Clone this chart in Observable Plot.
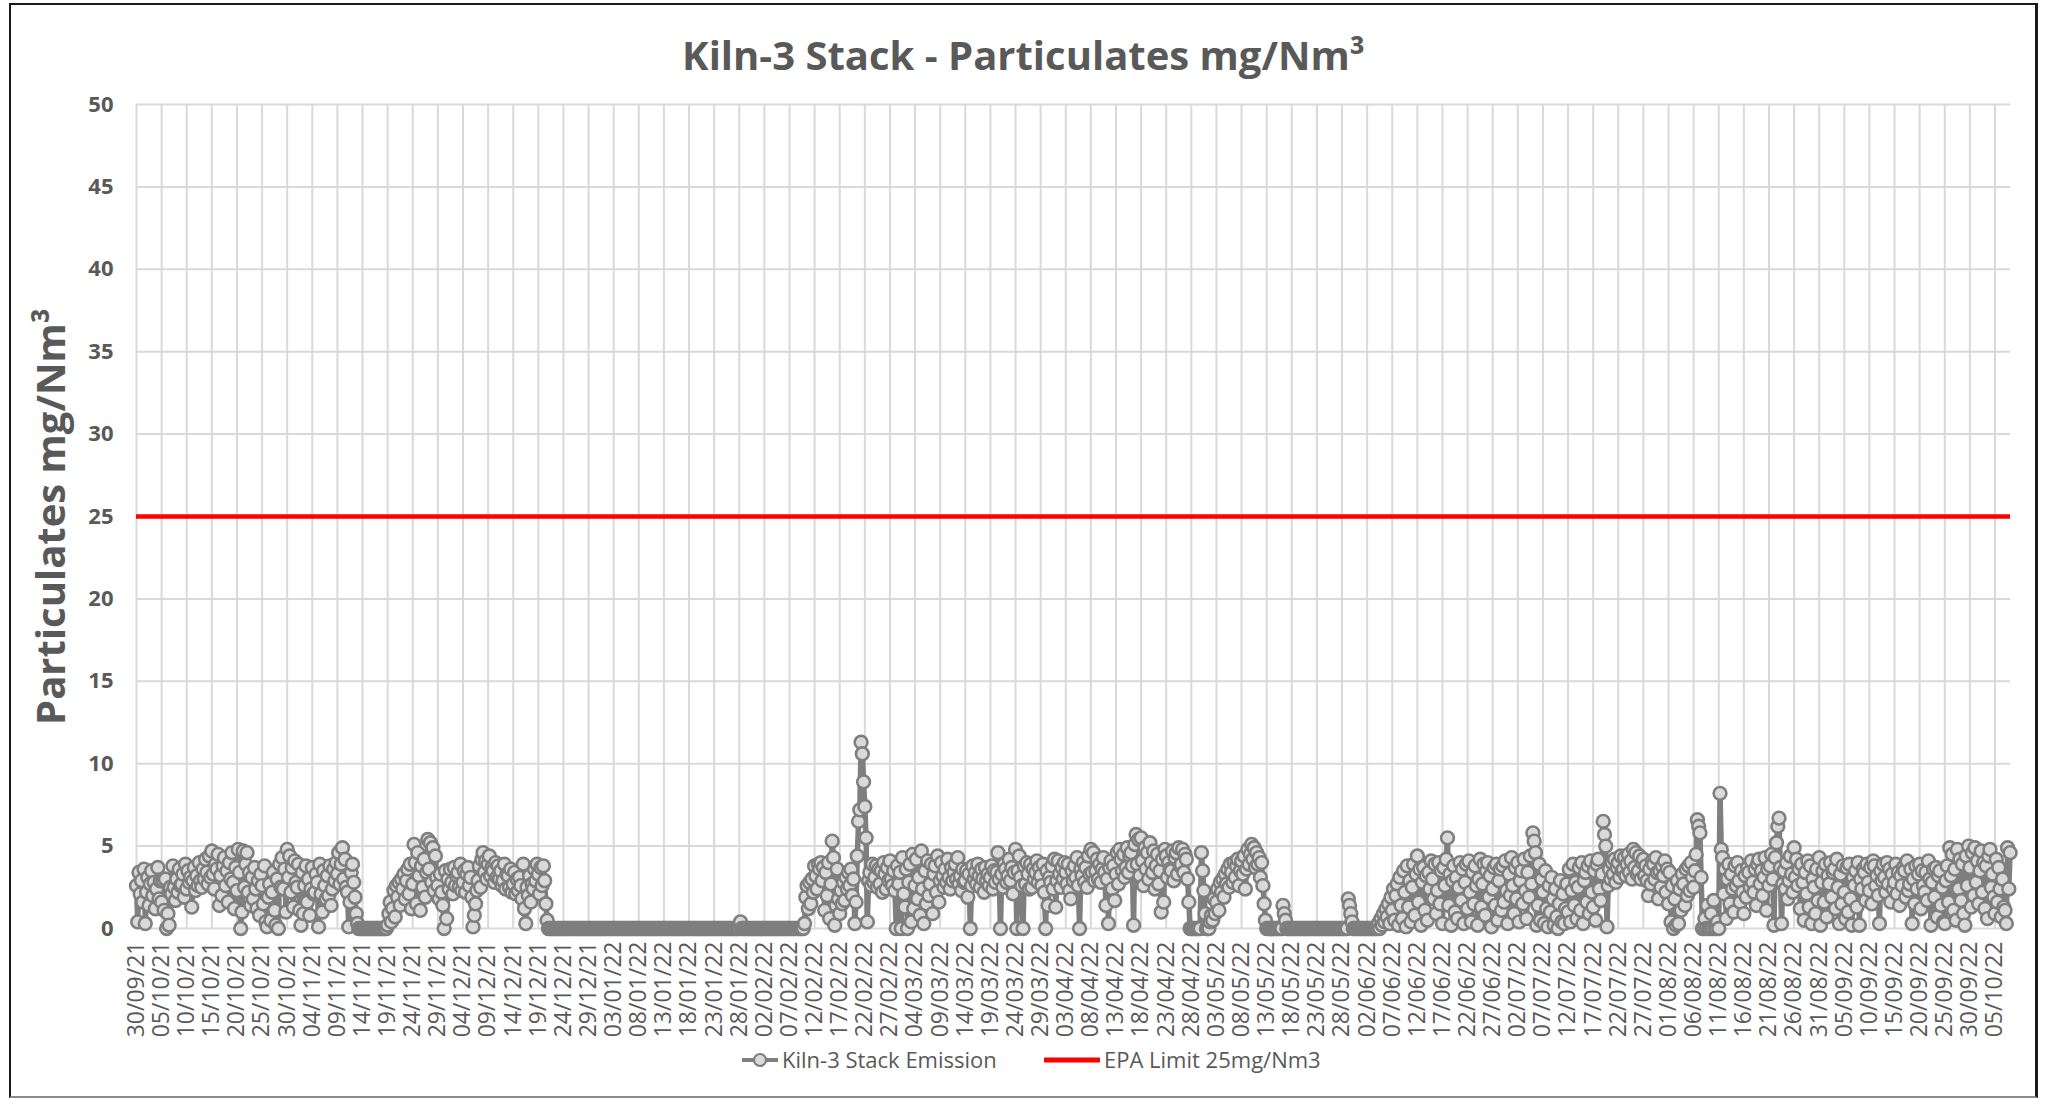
<!DOCTYPE html>
<html>
<head>
<meta charset="utf-8">
<script src="https://cdn.jsdelivr.net/npm/d3@7"></script>
<script src="https://cdn.jsdelivr.net/npm/@observablehq/plot@0.6"></script>
<style>
html,body{margin:0;padding:0;background:#fff;}
#wrap{position:relative;width:2047px;height:1099px;overflow:hidden;font-family:"Open Sans",sans-serif;color:#595959;background:#fff;}
#frame{position:absolute;left:9px;top:3px;width:2029px;height:1095px;border:2px solid #1a1a1a;border-right-width:3px;border-bottom-color:#8c8c8c;box-sizing:border-box;pointer-events:none;}
#chart{position:absolute;left:0;top:0;}
#title{position:absolute;left:0;top:35px;width:2047px;text-align:center;font-size:40px;line-height:40px;font-weight:700;white-space:nowrap;}
.lg{position:absolute;top:1048px;font-size:22px;line-height:22px;white-space:nowrap;}
.sw{position:absolute;top:1052px;}
</style>
</head>
<body>
<div id="wrap">
  <div id="chart"></div>
  <div id="title"></div>
  <svg class="sw" id="sw1" style="left:742px" width="36" height="16"><line x1="0" y1="8" x2="36" y2="8" stroke="#7f7f7f" stroke-width="4"/><circle cx="18" cy="8" r="6" fill="#d9d9d9" stroke="#7f7f7f" stroke-width="2.2"/></svg>
  <div class="lg" id="lg1" style="left:782px"></div>
  <svg class="sw" id="sw2" style="left:1044px" width="56" height="16"><line x1="1" y1="8" x2="55" y2="8" stroke="#ff0000" stroke-width="5" stroke-linecap="round"/></svg>
  <div class="lg" id="lg2" style="left:1104px"></div>
  <div id="frame"></div>
</div>
<script>
// ---- Text ----
const chartTitle = "Kiln-3 Stack - Particulates mg/Nm³";
const yTitle = "Particulates mg/Nm³";
const seriesName = "Kiln-3 Stack Emission";
const limitName = "EPA Limit 25mg/Nm3";
const epaLimit = 25;

// ---- Axis ticks ----
const yTicks = [0, 5, 10, 15, 20, 25, 30, 35, 40, 45, 50];
const xTickLabels = ["30/09/21","05/10/21","10/10/21","15/10/21","20/10/21","25/10/21","30/10/21","04/11/21","09/11/21","14/11/21","19/11/21","24/11/21","29/11/21","04/12/21","09/12/21","14/12/21","19/12/21","24/12/21","29/12/21","03/01/22","08/01/22","13/01/22","18/01/22","23/01/22","28/01/22","02/02/22","07/02/22","12/02/22","17/02/22","22/02/22","27/02/22","04/03/22","09/03/22","14/03/22","19/03/22","24/03/22","29/03/22","03/04/22","08/04/22","13/04/22","18/04/22","23/04/22","28/04/22","03/05/22","08/05/22","13/05/22","18/05/22","23/05/22","28/05/22","02/06/22","07/06/22","12/06/22","17/06/22","22/06/22","27/06/22","02/07/22","07/07/22","12/07/22","17/07/22","22/07/22","27/07/22","01/08/22","06/08/22","11/08/22","16/08/22","21/08/22","26/08/22","31/08/22","05/09/22","10/09/22","15/09/22","20/09/22","25/09/22","30/09/22","05/10/22"];
const xDomain = ["2021-09-30T00:00:00Z", "2022-10-08T02:00:00Z"];

// ---- Readings, 6-hourly (00,06,12,18h), mg/Nm3 ----
const sepOct21 = [ // from 30/09/21
2.6,0.4,3.4,2.1, 2.9,1.6,3.6,0.3, 2.2,3.1,1.4,2.7, 3.5,2.0,2.8,1.2, 2.4,3.7,1.8,2.9,
1.6,2.9,1.1,3.0, 0.0,0.9,0.2,2.5, 2.1,3.8,2.5,1.7, 3.0,2.2,3.6,2.6, 2.7,3.3,1.9,3.9,
2.4,3.5,2.8,3.1, 1.3,2.9,3.7,2.3, 3.2,2.6,4.0,2.9, 2.5,3.6,3.0,4.2, 3.4,2.7,4.4,3.1,
4.7,3.3,2.4,3.9, 3.6,4.5,1.4,3.2, 2.0,3.8,4.3,2.6, 3.5,1.6,4.0,3.0, 4.6,2.8,1.2,3.7,
2.3,4.8,3.4,0.0, 1.0,4.7,2.5,3.9, 4.6,2.2,3.4,1.4, 3.1,1.8,3.7,2.4, 1.2,2.9,0.8,3.3,
2.6,1.5,3.8,0.4, 0.1,1.9,2.7,0.5, 2.2,3.4,1.1,0.2, 3.0,0.0,3.9,2.5, 4.3,2.4,3.6,1.0,
4.8,3.1,4.4,2.2, 3.7,1.3,4.1,2.8];
const nov21 = [
2.5,3.9,1.1,0.2, 3.4,0.9,2.6,3.8, 1.6,3.0,0.8,2.4, 3.7,2.1,2.2,3.3, 2.8,0.1,3.9,2.1,
1.0,3.5,2.6,1.8, 3.2,2.0,3.8,1.4, 2.4,3.6,2.9,4.0, 3.3,4.6,2.7,3.9, 4.9,3.0,4.2,2.5,
2.2,0.1,1.6,3.4, 3.9,2.8,1.9,0.9, 0.3,0,0,0, 0,0,0,0, 0,0,0,0,
0,0,0,0, 0,0,0,0, 0,0,0,0, 0.2,0.9,1.6,0.4, 1.2,2.3,0.7,2.6,
1.9,2.8,1.4,3.0, 2.4,3.3,1.8,2.9, 3.6,2.1,3.9,1.2, 2.7,5.1,4.0,1.5, 4.6,3.2,1.1,3.8,
2.5,4.2,1.9,3.4, 5.4,3.6,5.2,2.8, 4.9,2.3,4.4,3.1, 2.6,1.8,3.3,2.2, 1.4,0.0,3.5,0.6];
const dec21 = [
3.0,2.4,3.6,2.8, 2.1,3.7,2.6,3.2, 3.4,2.5,3.9,2.3, 2.8,3.5,2.2,3.3, 3.7,2.6,3.1,1.9,
0.1,0.8,1.5,2.3, 2.9,3.8,2.5,4.2, 4.6,3.4,4.1,3.0, 3.9,4.4,3.2,3.7, 3.5,2.8,4.0,3.1,
3.8,3.0,3.5,2.6, 2.9,3.9,2.4,3.3, 3.2,2.5,3.6,2.2, 2.7,3.4,2.1,3.0, 2.3,3.1,2.6,1.8,
3.9,1.2,0.3,2.5, 2.0,3.2,1.6,2.7, 2.4,3.6,2.9,3.9, 3.3,2.1,3.7,2.6, 3.8,2.9,1.5,0.5,
0,0,0,0, 0,0,0,0, 0,0,0,0, 0,0,0,0, 0,0,0,0,
0,0,0,0, 0,0,0,0, 0,0,0,0, 0,0,0,0, 0,0,0,0,
0,0,0,0];
const jan22 = [
0,0,0,0, 0,0,0,0, 0,0,0,0, 0,0,0,0, 0,0,0,0,
0,0,0,0, 0,0,0,0, 0,0,0,0, 0,0,0,0, 0,0,0,0,
0,0,0,0, 0,0,0,0, 0,0,0,0, 0,0,0,0, 0,0,0,0,
0,0,0,0, 0,0,0,0, 0,0,0,0, 0,0,0,0, 0,0,0,0,
0,0,0,0, 0,0,0,0, 0,0,0,0, 0,0,0,0, 0,0,0,0,
0,0,0,0, 0,0,0,0, 0,0.4,0,0, 0,0,0,0, 0,0,0,0,
0,0,0,0];
const feb22 = [
0,0,0,0, 0,0,0,0, 0,0,0,0, 0,0,0,0, 0,0,0,0,
0,0,0,0, 0,0,0,0, 0,0,0,0, 0,0,0,0, 0.3,1.9,2.6,1.2,
2.8,1.5,3.0,2.2, 3.8,3.2,2.4,3.9, 3.6,4.0,2.9,3.7, 1.1,3.4,2.0,4.0, 0.6,2.7,5.3,4.3,
0.2,1.4,3.6,1.8, 0.9,2.3,1.5,2.8, 1.7,3.1,2.4,3.4, 2.6,3.6,2.0,3.0, 0.3,1.6,4.4,6.5,
7.2,11.3,10.6,8.9, 7.4,5.5,0.4,2.9, 3.4,2.6,3.9,2.8, 3.1,3.8,2.5,3.6, 2.7,3.5,2.2,4.0,
3.3,2.4,3.7,2.9, 4.1,3.0,2.6,3.5, 2.3,0.0,3.8,2.7];
const mar22 = [
3.4,0.0,4.3,2.1, 1.3,3.6,0.0,2.8, 3.9,0.4,4.5,1.2, 2.6,4.2,1.8,3.1, 0.8,4.7,2.4,0.3,
3.5,1.5,4.1,2.0, 2.7,3.9,0.9,3.3, 3.8,2.2,4.4,1.6, 2.9,4.0,3.2,2.5, 3.6,2.8,4.2,3.1,
2.4,3.7,2.9,3.4, 3.9,3.0,4.3,2.7, 3.2,2.3,3.6,2.8, 2.9,3.5,1.9,3.3, 0.0,2.6,3.8,3.0,
3.4,2.7,3.9,3.2, 2.5,3.6,3.0,2.2, 3.7,2.9,3.3,2.6, 3.1,3.8,2.4,3.5, 2.8,3.4,4.6,3.0,
0.0,3.3,2.5,3.9, 3.6,2.8,3.2,4.2, 2.9,3.7,2.1,3.4, 4.8,0.0,3.5,4.4, 3.1,2.6,0.0,3.8,
2.7,4.0,3.3,2.4, 3.9,2.5,3.6,3.0, 3.4,4.1,2.8,3.7, 3.2,2.6,3.9,2.2, 0.0,3.5,1.4,3.1,
2.8,3.8,2.4,4.2];
const apr22 = [
1.3,2.9,4.1,3.3, 2.5,3.7,3.0,4.0, 3.4,2.7,3.9,2.3, 1.8,3.5,2.9,3.8, 3.1,4.3,2.6,0.0,
3.6,3.2,4.0,2.8, 3.7,2.5,4.4,3.3, 4.8,3.4,4.6,2.9, 3.5,4.2,3.0,3.9, 2.8,3.6,4.3,3.4,
1.4,3.0,0.3,3.7, 4.1,2.4,3.8,1.7, 3.3,4.6,2.7,4.8, 4.2,3.5,4.5,3.1, 3.7,4.9,3.4,4.4,
4.6,3.8,0.2,5.1, 5.7,3.9,5.4,3.2, 5.5,4.1,2.6,4.9, 3.6,4.6,3.0,5.2, 4.0,3.4,4.7,2.4,
3.8,4.5,2.7,3.5, 1.0,4.2,1.6,4.8, 4.4,3.1,4.0,3.6, 3.5,4.7,2.9,4.3, 4.6,3.3,4.9,3.8,
3.9,4.8,3.4,4.5, 4.2,3.0,1.6,0.0, 0,0,0,0, 0,0,0,0, 4.6,3.5,2.3,0.9];
const may22 = [
0,0,0,0.4, 0.8,0.5,1.8,0.9, 1.6,2.4,1.1,2.8, 2.2,3.0,1.9,3.3, 2.7,3.6,2.5,3.9,
3.4,2.8,4.0,3.1, 3.8,4.2,2.6,3.5, 4.1,3.3,4.4,2.4, 3.6,4.8,3.9,4.5, 5.1,4.2,4.9,3.7,
4.6,3.9,4.3,3.1, 4.0,2.6,1.5,0.5, 0,0,0,0, 0,0,0,0, 0,0,0,0,
0,1.4,0.9,0.5, 0,0,0,0, 0,0,0,0, 0,0,0,0, 0,0,0,0,
0,0,0,0, 0,0,0,0, 0,0,0,0, 0,0,0,0, 0,0,0,0,
0,0,0,0, 0,0,0,0, 0,0,0,0, 0,1.8,1.4,0.9, 0.4,0,0,0,
0,0,0,0];
const jun22 = [
0,0,0,0, 0,0,0,0, 0,0,0,0, 0,0.3,0,0.6, 0.2,0.9,0.4,1.2,
0.7,1.5,0.3,1.9, 1.1,2.4,0.5,2.0, 2.7,0.2,3.1,1.4, 0.6,3.5,2.2,0.1, 3.8,1.3,2.9,0.4,
2.5,3.9,0.8,3.3, 4.4,1.6,3.6,0.2, 2.8,3.7,1.1,3.2, 0.5,3.4,2.4,4.1, 3.0,1.8,3.9,0.9,
2.3,4.0,1.5,3.5, 0.3,3.7,2.6,4.2, 5.5,1.4,3.3,0.2, 2.9,3.8,1.0,3.1, 0.6,2.5,4.0,1.7,
3.6,0.3,2.8,3.9, 1.2,4.1,2.2,0.4, 3.4,1.5,3.8,2.6, 0.2,3.0,4.2,1.3, 2.7,3.9,0.8,3.5,
4.0,1.9,3.2,0.1, 2.4,3.7,1.4,3.9, 0.5,2.9,3.6,1.1, 3.8,1.6,4.1,2.3, 0.3,3.3,2.0,4.3];
const jul22 = [
2.6,0.9,3.7,1.8, 4.0,0.4,2.9,3.5, 1.5,4.2,2.3,0.6, 3.4,1.9,4.4,2.7, 5.8,5.3,4.6,0.2,
1.4,3.9,0.5,3.0, 2.2,0.3,3.5,1.2, 0.1,2.6,1.0,3.1, 1.8,0.2,2.4,0.7, 0.0,1.5,2.9,0.4,
2.1,0.3,1.2,2.7, 1.0,3.6,0.4,2.3, 3.9,1.4,2.8,0.6, 2.5,3.7,1.1,4.0, 0.3,2.9,3.4,1.6,
3.8,0.9,4.1,2.2, 1.3,3.5,0.5,3.9, 4.2,2.4,1.7,3.3, 6.5,5.7,5.0,0.1, 2.6,3.6,3.0,4.0,
3.3,4.2,2.8,3.7, 4.0,3.1,4.4,3.5, 3.6,4.3,3.2,3.9, 4.5,3.4,4.1,3.0, 4.8,3.7,4.6,3.3,
3.5,4.4,3.0,4.0, 4.2,3.2,3.8,2.9, 2.0,3.6,2.7,4.1, 3.9,3.0,4.3,3.4, 1.8,3.5,2.5,3.8,
3.2,4.1,2.2,3.6];
const aug22 = [
1.5,3.4,0.4,2.6, 0.0,1.8,0.2,2.9, 0.3,2.4,1.1,3.3, 2.7,1.4,3.6,2.0, 3.8,2.3,4.0,3.1,
2.5,3.5,4.5,6.6, 6.2,5.8,3.1,0.0, 0.0,0.6,0.0,1.4, 0.0,0.0,0.9,0.0, 1.7,0.0,0.0,0.4,
0.0,8.2,4.8,4.3, 2.1,3.6,0.6,3.0, 3.9,1.5,3.3,2.4, 1.0,3.8,2.6,4.0, 2.9,1.6,3.5,2.2,
0.9,3.2,1.9,3.7, 3.4,2.5,4.1,2.8, 2.2,3.6,1.4,3.9, 4.2,2.7,3.5,2.0, 3.1,4.3,1.1,3.6,
2.6,3.8,4.5,3.0, 0.2,4.3,5.2,6.2, 6.7,3.7,0.3,2.7, 3.5,2.4,4.0,1.8, 2.9,4.4,3.3,2.2,
4.9,3.1,4.2,2.6, 3.6,1.2,3.9,2.8, 0.5,3.4,2.1,4.1, 1.3,3.8,0.3,3.0, 2.5,0.9,3.6,1.7,
4.3,0.2,2.8,3.5];
const sep22 = [
1.6,3.9,0.7,3.2, 2.7,4.0,1.9,3.4, 3.6,1.2,4.2,2.5, 0.3,3.3,1.5,3.8, 2.2,0.6,3.7,1.0,
3.9,1.8,0.2,3.1, 2.6,3.5,1.3,4.0, 0.2,3.0,2.4,3.6, 3.4,1.7,3.9,2.8, 2.3,3.7,1.5,4.1,
3.8,2.6,3.2,2.0, 0.3,3.5,2.9,3.9, 3.1,2.2,4.0,2.7, 3.6,1.6,3.3,2.4, 2.8,3.9,2.1,3.4,
1.4,3.2,2.6,3.7, 3.5,1.9,4.1,2.3, 2.7,3.6,0.3,3.0, 1.5,3.8,2.4,3.3, 3.9,1.2,3.5,2.6,
2.2,3.4,1.7,4.1, 3.0,0.2,2.8,3.6, 1.9,3.7,0.7,3.2, 3.5,1.4,2.5,0.4, 0.3,2.9,3.8,1.6,
4.9,3.2,4.5,1.1, 3.6,0.5,4.8,2.4, 4.2,1.7,3.9,0.9, 0.2,4.4,2.6,5.0, 3.7,1.3,4.6,2.0];
const oct22 = [
4.9,2.8,4.1,1.5, 3.5,4.7,2.2,4.0, 1.2,3.8,0.6,4.4, 4.8,2.5,3.3,1.9, 0.9,4.2,1.6,3.7,
2.4,0.7,3.0,1.3, 1.1,0.3,4.9,2.4, 4.6];

const segments = [
  {start: "2021-09-30", values: sepOct21},
  {start: "2021-11-01", values: nov21},
  {start: "2021-12-01", values: dec21},
  {start: "2022-01-01", values: jan22},
  {start: "2022-02-01", values: feb22},
  {start: "2022-03-01", values: mar22},
  {start: "2022-04-01", values: apr22},
  {start: "2022-05-01", values: may22},
  {start: "2022-06-01", values: jun22},
  {start: "2022-07-01", values: jul22},
  {start: "2022-08-01", values: aug22},
  {start: "2022-09-01", values: sep22},
  {start: "2022-10-01", values: oct22}
];

const STEP = 6 * 3600 * 1000;
const data = segments.flatMap(s => {
  const t0 = Date.parse(s.start + "T00:00:00Z");
  return s.values.map((v, i) => ({date: new Date(t0 + i * STEP), value: v}));
});

const parseTick = d3.utcParse("%d/%m/%y");
const tickDates = xTickLabels.map(parseTick);
const fmt = d3.utcFormat("%d/%m/%y");

const chart = Plot.plot({
  width: 2047,
  height: 1045,
  marginLeft: 136,
  marginRight: 37,
  marginTop: 104,
  marginBottom: 117,
  style: {fontFamily: "'Open Sans', sans-serif", background: "transparent", color: "#595959", overflow: "visible"},
  x: {type: "utc", domain: xDomain.map(d => new Date(d))},
  y: {domain: [0, 50]},
  marks: [
    Plot.gridY(yTicks, {stroke: "#d9d9d9", strokeOpacity: 1, strokeWidth: 2}),
    Plot.gridX(tickDates, {stroke: "#d9d9d9", strokeOpacity: 1, strokeWidth: 2}),
    Plot.axisY(yTicks, {tickSize: 0, tickPadding: 23, fontSize: 22, fontWeight: "bold", fill: "#595959", label: null}),
    Plot.axisX(tickDates, {tickSize: 0, tickPadding: 13, tickRotate: -90, fontSize: 23, fill: "#595959", tickFormat: fmt, label: null}),
    Plot.line(data, {x: "date", y: "value", stroke: "#7f7f7f", strokeWidth: 5.5, strokeLinejoin: "round"}),
    Plot.dot(data, {x: "date", y: "value", r: 6.4, fill: "#d9d9d9", stroke: "#7f7f7f", strokeWidth: 2.6}),
    Plot.ruleY([epaLimit], {stroke: "#ff0000", strokeWidth: 4.5}),
    Plot.text([yTitle], {text: d => d, frameAnchor: "left", textAnchor: "middle", rotate: -90, dx: -84, fontSize: 40, fontWeight: "bold", fill: "#595959"})
  ]
});
document.getElementById("chart").appendChild(chart);
document.getElementById("title").textContent = chartTitle;
document.getElementById("lg1").textContent = seriesName;
document.getElementById("lg2").textContent = limitName;
</script>
</body>
</html>
